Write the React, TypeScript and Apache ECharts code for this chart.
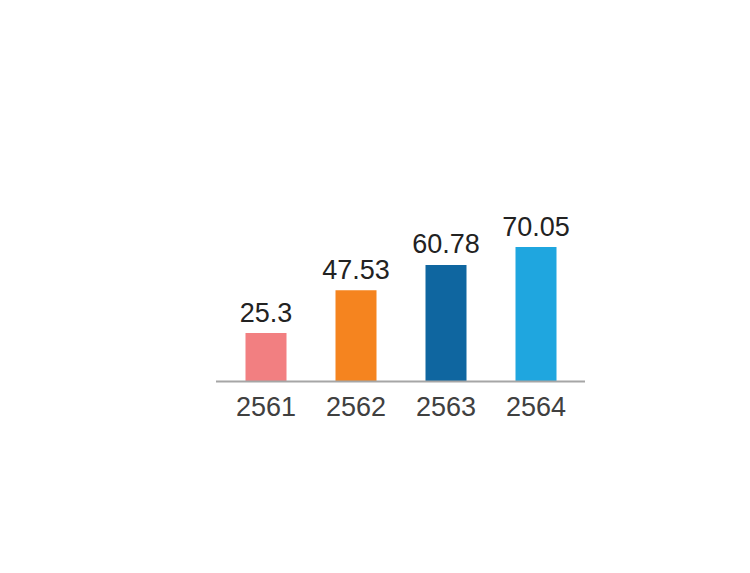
import React, { useEffect, useRef } from "react";
import * as echarts from "echarts";

const categories = ["2561", "2562", "2563", "2564"];
const values = [25.3, 47.53, 60.78, 70.05];
const barColors = ["#F27F81", "#F5841F", "#0F66A0", "#1FA6DF"];

export default function App() {
  const ref = useRef<HTMLDivElement>(null);
  useEffect(() => {
    if (!ref.current) return;
    const chart = echarts.init(ref.current, null, { renderer: "svg" });
    chart.setOption({
      animation: false,
      backgroundColor: "#ffffff",
      grid: { left: 221, top: 228, width: 360, height: 153.6, containLabel: false },
      xAxis: {
        type: "category",
        data: categories,
        axisLine: { show: false },
        axisTick: { show: false },
        axisLabel: {
          color: "#404040",
          fontSize: 27,
          fontFamily: "Liberation Sans, Arial, sans-serif",
          margin: 12,
        },
      },
      yAxis: {
        type: "value",
        min: 0,
        max: 80,
        show: false,
        splitLine: { show: false },
      },
      series: [
        {
          type: "bar",
          barWidth: 41,
          data: values.map((v, i) => ({ value: v, itemStyle: { color: barColors[i] } })),
          label: {
            show: true,
            position: "top",
            distance: 7,
            color: "#222222",
            fontSize: 27,
            fontFamily: "Liberation Sans, Arial, sans-serif",
          },
        },
      ],
      graphic: [
        {
          type: "line",
          shape: { x1: 216, y1: 381.6, x2: 585, y2: 381.6 },
          style: { stroke: "#A6A6A6", lineWidth: 2 },
          z: 10,
        },
      ],
    });
    return () => chart.dispose();
  }, []);
  return (
    <div
      ref={ref}
      style={{ position: "fixed", left: 0, top: 0, width: 750, height: 573 }}
    />
  );
}
